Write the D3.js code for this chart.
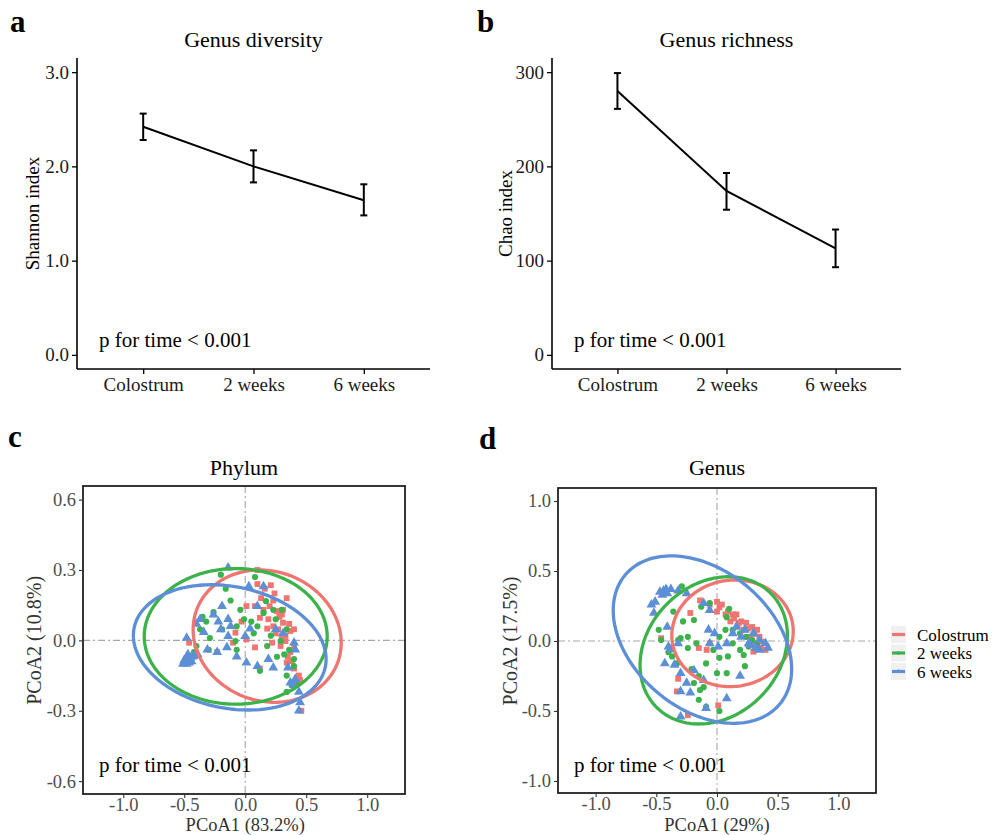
<!DOCTYPE html>
<html>
<head>
<meta charset="utf-8">
<script src="https://cdn.jsdelivr.net/npm/d3@7"></script>
<style>
  body { margin: 0; background: #fff; }
  svg text { font-family: "Liberation Serif", "Times New Roman", serif; }
</style>
</head>
<body>
<div id="chart"></div>
<script>
// ---- data ----
const categories = ["Colostrum", "2 weeks", "6 weeks"];

const shannonMean = [2.42, 2.00, 1.64];
const shannonLow  = [2.28, 1.83, 1.48];
const shannonHigh = [2.56, 2.17, 1.81];

const chaoMean = [280, 174, 113];
const chaoLow  = [261, 154, 93];
const chaoHigh = [299, 193, 133];

const shannonTicks = [0, 1, 2, 3];
const chaoTicks = [0, 100, 200, 300];
const pcoaXTicks = [-1, -0.5, 0, 0.5, 1];
const phylumYTicks = [-0.6, -0.3, 0, 0.3, 0.6];
const genusYTicks = [-1, -0.5, 0, 0.5, 1];

const groupColors = ["#F07571", "#3BB34A", "#5C8FD6"];
const groupShapes = [d3.symbolSquare, d3.symbolCircle, d3.symbolTriangle];

// phylum PCoA points [PCoA1, PCoA2]
const phylumColostrum = [
  [0.10,0.30],[0.10,0.24],[0.21,0.235],[0.16,0.22],[0.34,0.18],[0.23,0.17],[0.01,0.146],[0.08,0.146],
  [0.15,0.13],[0.20,0.146],[0.26,0.125],[0.31,0.13],[0.12,0.096],[0.19,0.09],[0.36,0.07],[0.40,0.047],
  [0.37,0.04],[0.27,0.047],[0.30,0.018],[0.33,-0.003],[0.40,-0.024],[0.37,-0.05],[0.29,-0.024],[0.22,-0.01],
  [0.08,-0.03],[0.01,0.004],[-0.08,0.033],[-0.10,-0.01],[-0.23,-0.05],[-0.46,-0.01],[0.12,-0.12],[0.34,-0.095],
  [0.40,-0.12],[0.44,-0.15],[0.45,-0.17],[0.46,-0.30],[-0.03,0.08],[0.23,0.06],[0.31,0.075],[0.28,0.10],
  [0.33,0.02],[0.25,0.03],[0.35,-0.07],[0.18,0.05],[0.30,0.11],[0.24,0.20],[0.13,0.18],[0.38,-0.09]
];
const phylum2w = [
  [-0.20,0.28],[0.08,0.27],[-0.16,0.22],[-0.12,0.17],[-0.26,0.12],[-0.32,0.08],[-0.37,0.047],[-0.29,0.01],
  [-0.40,-0.024],[-0.42,-0.05],[-0.30,-0.04],[-0.04,0.13],[-0.01,0.09],[-0.08,-0.003],[-0.07,-0.04],[0.07,0.03],
  [0.15,0.117],[0.17,0.167],[0.23,0.13],[0.30,0.13],[0.25,0.09],[0.34,0.047],[0.29,-0.003],[0.36,-0.04],
  [0.40,-0.08],[0.26,-0.07],[0.18,-0.024],[0.12,-0.13],[0.34,-0.15],[0.38,-0.19],[0.42,-0.19],[0.34,-0.22],
  [0.05,0.08],[0.10,0.06],[-0.07,0.06],[-0.19,0.047],[0.40,-0.11],[-0.35,0.10],[0.21,0.02],[0.32,-0.06]
];
const phylum6w = [
  [-0.14,0.31],[0.03,0.23],[0.15,0.23],[-0.19,0.146],[-0.26,0.11],[-0.37,0.09],[-0.40,0.07],[-0.22,0.08],
  [-0.14,0.09],[-0.34,0.035],[-0.20,0.047],[-0.14,0.018],[-0.48,0.01],[0.04,0.05],[-0.31,-0.04],[-0.23,-0.05],
  [-0.15,-0.03],[-0.07,-0.07],[0.01,-0.095],[0.10,-0.11],[0.19,-0.08],[0.23,-0.116],[0.35,-0.116],[0.31,0.03],
  [0.40,-0.01],[0.41,-0.04],[0.37,-0.18],[0.41,-0.165],[0.44,-0.22],[0.45,-0.265],[0.44,-0.30],[0.40,-0.19],
  [0.25,0.047],[0.10,0.146],[0.0,0.018],[-0.12,0.06],
  [-0.51,-0.10],[-0.49,-0.09],[-0.47,-0.08],[-0.45,-0.075],[-0.43,-0.07],[-0.41,-0.065],[-0.48,-0.10],
  [-0.46,-0.095],[-0.44,-0.09],[-0.50,-0.085],[-0.39,-0.06],[-0.47,-0.06]
];

// genus PCoA points [PCoA1, PCoA2]
const genusColostrum = [
  [-0.06,0.26],[0.0,0.28],[0.04,0.26],[0.09,0.21],[0.13,0.19],[0.16,0.19],[0.20,0.14],[0.24,0.13],
  [0.29,0.10],[0.33,0.08],[0.37,-0.005],[0.40,-0.064],[0.33,-0.04],[0.30,-0.076],[0.11,0.14],[0.07,0.19],
  [0.0,0.21],[-0.14,0.29],[-0.22,0.20],[-0.15,-0.05],[-0.06,-0.017],[-0.085,-0.064],[-0.46,0.02],[-0.32,-0.27],
  [-0.33,-0.36],[-0.24,-0.53],[0.01,-0.46],[0.18,0.13],[0.22,0.08],[0.27,0.03],[0.02,0.24],[0.14,0.16],
  [0.26,0.09],[0.31,0.05],[0.35,0.03],[0.28,-0.03],[0.36,-0.05],[0.17,0.11]
];
const genus2w = [
  [-0.29,0.39],[-0.48,0.08],[-0.46,0.007],[-0.36,0.21],[-0.28,0.14],[-0.19,0.15],[-0.13,0.245],[-0.37,-0.11],
  [-0.33,-0.16],[-0.30,0.02],[-0.24,-0.05],[-0.17,-0.017],[-0.15,-0.25],[-0.19,-0.30],[-0.14,-0.35],[-0.15,-0.42],
  [-0.09,-0.47],[0.02,-0.50],[0.0,-0.23],[0.08,-0.23],[0.23,-0.18],[0.02,-0.12],[-0.03,-0.064],[0.08,0.17],
  [0.13,0.08],[0.19,0.055],[0.24,0.03],[0.29,0.007],[0.33,-0.017],[0.13,-0.017],[0.19,-0.064],[0.22,-0.10],
  [0.07,0.08],[0.02,0.03],[0.09,-0.11],[-0.09,-0.16],[-0.32,0.007],[-0.06,0.27],[-0.24,0.03],[-0.21,-0.20],
  [-0.11,-0.33],[0.10,0.23],[0.26,-0.04],[-0.40,-0.08]
];
const genus6w = [
  [-0.47,0.35],[-0.44,0.36],[-0.41,0.34],[-0.38,0.37],[-0.45,0.33],[-0.42,0.37],[-0.51,0.28],[-0.54,0.26],
  [-0.52,0.20],[-0.32,0.36],[-0.25,0.34],[-0.41,0.10],[-0.40,-0.04],[-0.43,-0.16],[-0.35,-0.17],[-0.30,-0.23],
  [-0.25,-0.30],[-0.30,-0.36],[-0.19,-0.21],[-0.11,-0.28],[-0.09,-0.48],[-0.30,-0.54],[-0.22,-0.37],[-0.11,0.27],
  [-0.06,0.22],[-0.07,0.08],[-0.02,0.055],[0.01,-0.04],[0.13,0.055],[0.16,0.10],[0.23,0.08],[0.30,0.055],
  [0.35,0.007],[0.40,-0.017],[0.42,-0.05],[0.35,-0.064],[0.26,-0.017],[0.19,-0.25],[0.08,-0.41],[-0.32,-0.017],
  [0.08,-0.017],[0.20,0.03],[-0.06,-0.017],[0.28,-0.03],[0.32,-0.05],[-0.38,-0.06]
];

// stat_ellipse outlines: [centre x, centre y, half-width x, half-height y, correlation]
const phylumEllipses = [
  [0.18, 0.018, 0.607, 0.282, -0.1],
  [-0.078, 0.017, 0.75, 0.289, 0.0],
  [-0.127, -0.03, 0.79, 0.267, -0.19]
];
const genusEllipses = [
  [0.128, 0.055, 0.50, 0.381, 0.04],
  [-0.027, -0.067, 0.607, 0.526, 0.2],
  [-0.12, 0.01, 0.735, 0.598, -0.35]
];

const W = 999, H = 835;
const FONT = '"Liberation Serif", "Times New Roman", serif';
const svg = d3.select("#chart").append("svg")
  .attr("width", W).attr("height", H)
  .attr("font-family", FONT)
  .style("display", "block");

const fmt1 = d => d.toFixed(1);

function addText(parent, txt, size) {
  return parent.append("text").attr("font-family", FONT).attr("font-size", size).text(txt);
}

function panelLetter(txt, x, y) {
  addText(svg, txt, 31).attr("x", x).attr("y", y).attr("font-weight", "bold");
}

function linePanel(opt) {
  const g = svg.append("g");
  const x = d3.scalePoint().domain(categories).range([opt.left, opt.right]).padding(0.6);
  const y = d3.scaleLinear().domain(opt.yDomain).range([opt.bottom, opt.top]);

  // axes
  const yAxis = g.append("g").attr("transform", `translate(${opt.left},0)`)
    .call(d3.axisLeft(y).tickValues(opt.ticks).tickSize(5).tickPadding(3).tickFormat(opt.format));
  const xAxis = g.append("g").attr("transform", `translate(0,${opt.bottom})`)
    .call(d3.axisBottom(x).tickSize(5).tickPadding(4));
  [yAxis, xAxis].forEach(a => {
    a.attr("font-family", FONT);
    a.select(".domain").attr("stroke", "#000").attr("stroke-width", 1.6);
    a.selectAll(".tick line").attr("stroke", "#000").attr("stroke-width", 1.3);
    a.selectAll(".tick text").attr("fill", "#1a1a1a").attr("font-size", 19);
  });
  xAxis.select(".domain").attr("d", `M${opt.left},0H${opt.right}`);
  yAxis.select(".domain").attr("d", `M0,${opt.bottom}V${opt.top}`);

  const idx = d3.range(categories.length);
  g.append("path")
    .datum(idx)
    .attr("fill", "none").attr("stroke", "#000").attr("stroke-width", 2)
    .attr("d", d3.line().x(i => x(categories[i])).y(i => y(opt.mean[i])));

  const bars = g.selectAll(".eb").data(idx).enter().append("g")
    .attr("stroke", "#000").attr("stroke-width", 2);
  bars.append("line")
    .attr("x1", i => x(categories[i])).attr("x2", i => x(categories[i]))
    .attr("y1", i => y(opt.low[i])).attr("y2", i => y(opt.high[i]));
  bars.append("line")
    .attr("x1", i => x(categories[i]) - 3.5).attr("x2", i => x(categories[i]) + 3.5)
    .attr("y1", i => y(opt.low[i])).attr("y2", i => y(opt.low[i]));
  bars.append("line")
    .attr("x1", i => x(categories[i]) - 3.5).attr("x2", i => x(categories[i]) + 3.5)
    .attr("y1", i => y(opt.high[i])).attr("y2", i => y(opt.high[i]));

  addText(g, opt.title, 22).attr("x", x(categories[1])).attr("y", 47).attr("text-anchor", "middle");
  addText(g, opt.ylabel, 19)
    .attr("transform", `translate(${opt.ylabX},${(opt.top + opt.bottom) / 2}) rotate(-90)`)
    .attr("text-anchor", "middle");
  addText(g, "p for time < 0.001", 21).attr("x", opt.left + 22).attr("y", 347);
}

function pcoaPanel(opt) {
  const g = svg.append("g");
  const x = d3.scaleLinear().domain(opt.xDomain).range([opt.left, opt.right]);
  const y = d3.scaleLinear().domain(opt.yDomain).range([opt.bottom, opt.top]);

  const clipId = "clip" + opt.title;
  g.append("clipPath").attr("id", clipId).append("rect")
    .attr("x", opt.left).attr("y", opt.top)
    .attr("width", opt.right - opt.left).attr("height", opt.bottom - opt.top);
  const plot = g.append("g").attr("clip-path", `url(#${clipId})`);

  // reference lines at 0
  plot.append("line").attr("x1", x(0)).attr("x2", x(0)).attr("y1", opt.top).attr("y2", opt.bottom)
    .attr("stroke", "#a6a6a6").attr("stroke-width", 1.1).attr("stroke-dasharray", "7,3,2,3");
  plot.append("line").attr("y1", y(0)).attr("y2", y(0)).attr("x1", opt.left).attr("x2", opt.right)
    .attr("stroke", "#a6a6a6").attr("stroke-width", 1.1).attr("stroke-dasharray", "7,3,2,3");

  const sizes = [34, 30, 42];
  opt.groups.forEach((pts, k) => {
    plot.append("g").selectAll("path").data(pts).enter().append("path")
      .attr("transform", d => `translate(${x(d[0])},${y(d[1])})`)
      .attr("d", d3.symbol().type(groupShapes[k]).size(sizes[k]))
      .attr("fill", groupColors[k]);
  });

  const ts = d3.range(0, 2 * Math.PI, Math.PI / 90);
  const eline = d3.line().curve(d3.curveLinearClosed);
  opt.ellipses.forEach((e, k) => {
    const [cx, cy, sx, sy, r] = e;
    const pts = ts.map(t => [
      x(cx + sx * Math.cos(t)),
      y(cy + sy * (r * Math.cos(t) + Math.sqrt(1 - r * r) * Math.sin(t)))
    ]);
    plot.append("path").attr("d", eline(pts))
      .attr("fill", "none").attr("stroke", groupColors[k]).attr("stroke-width", 3.3);
  });

  g.append("rect").attr("x", opt.left).attr("y", opt.top)
    .attr("width", opt.right - opt.left).attr("height", opt.bottom - opt.top)
    .attr("fill", "none").attr("stroke", "#222").attr("stroke-width", 1.8);

  const yAxis = g.append("g").attr("transform", `translate(${opt.left},0)`)
    .call(d3.axisLeft(y).tickValues(opt.yTicks).tickSize(4).tickPadding(3).tickFormat(fmt1));
  const xAxis = g.append("g").attr("transform", `translate(0,${opt.bottom})`)
    .call(d3.axisBottom(x).tickValues(pcoaXTicks).tickSize(4).tickPadding(0).tickFormat(fmt1));
  [yAxis, xAxis].forEach(a => {
    a.attr("font-family", FONT);
    a.select(".domain").remove();
    a.selectAll(".tick line").attr("stroke", "#333").attr("stroke-width", 1.1);
    a.selectAll(".tick text").attr("fill", "#4d4d4d").attr("font-size", 18.5);
  });

  addText(g, opt.title, 22).attr("x", (opt.left + opt.right) / 2).attr("y", 475)
    .attr("text-anchor", "middle");
  addText(g, opt.xlabel, 18.5).attr("x", x(0)).attr("y", 831)
    .attr("text-anchor", "middle").attr("fill", "#333");
  addText(g, opt.ylabel, 20)
    .attr("transform", `translate(${opt.ylabX},${y(0)}) rotate(-90)`)
    .attr("text-anchor", "middle").attr("fill", "#333");
  addText(g, "p for time < 0.001", 21).attr("x", opt.left + 16).attr("y", 772);
}

linePanel({
  left: 77, right: 430, top: 58, bottom: 369,
  yDomain: [-0.15, 3.15], ticks: shannonTicks, format: fmt1,
  mean: shannonMean, low: shannonLow, high: shannonHigh,
  title: "Genus diversity", ylabel: "Shannon index", ylabX: 39
});
linePanel({
  left: 552, right: 901, top: 58, bottom: 369,
  yDomain: [-15, 315], ticks: chaoTicks, format: d3.format("d"),
  mean: chaoMean, low: chaoLow, high: chaoHigh,
  title: "Genus richness", ylabel: "Chao index", ylabX: 512
});

pcoaPanel({
  left: 83, right: 405, top: 486, bottom: 794,
  xDomain: [-1.33, 1.31], yDomain: [-0.655, 0.658], yTicks: phylumYTicks,
  groups: [phylumColostrum, phylum2w, phylum6w], ellipses: phylumEllipses,
  title: "Phylum", xlabel: "PCoA1 (83.2%)", ylabel: "PCoA2 (10.8%)", ylabX: 41
});
pcoaPanel({
  left: 558, right: 876, top: 488, bottom: 793,
  xDomain: [-1.31, 1.31], yDomain: [-1.086, 1.093], yTicks: genusYTicks,
  groups: [genusColostrum, genus2w, genus6w], ellipses: genusEllipses,
  title: "Genus", xlabel: "PCoA1 (29%)", ylabel: "PCoA2 (17.5%)", ylabX: 517
});

panelLetter("a", 10, 32);
panelLetter("b", 477, 32);
panelLetter("c", 8, 447);
panelLetter("d", 479, 449);

// legend
const legend = svg.append("g").attr("transform", "translate(891,626)");
categories.forEach((c, k) => {
  const row = legend.append("g").attr("transform", `translate(0,${k * 18.5})`);
  row.append("rect").attr("width", 15).attr("height", 17).attr("fill", "#f0f0f0");
  row.append("line").attr("x1", 1).attr("x2", 14).attr("y1", 8.5).attr("y2", 8.5)
    .attr("stroke", groupColors[k]).attr("stroke-width", 3.2);
  row.append("path").attr("transform", "translate(7.5,8.5)")
    .attr("d", d3.symbol().type(groupShapes[k]).size(10)).attr("fill", groupColors[k]);
  addText(row, c, 17).attr("x", 26).attr("y", 14.5);
});
</script>
</body>
</html>
